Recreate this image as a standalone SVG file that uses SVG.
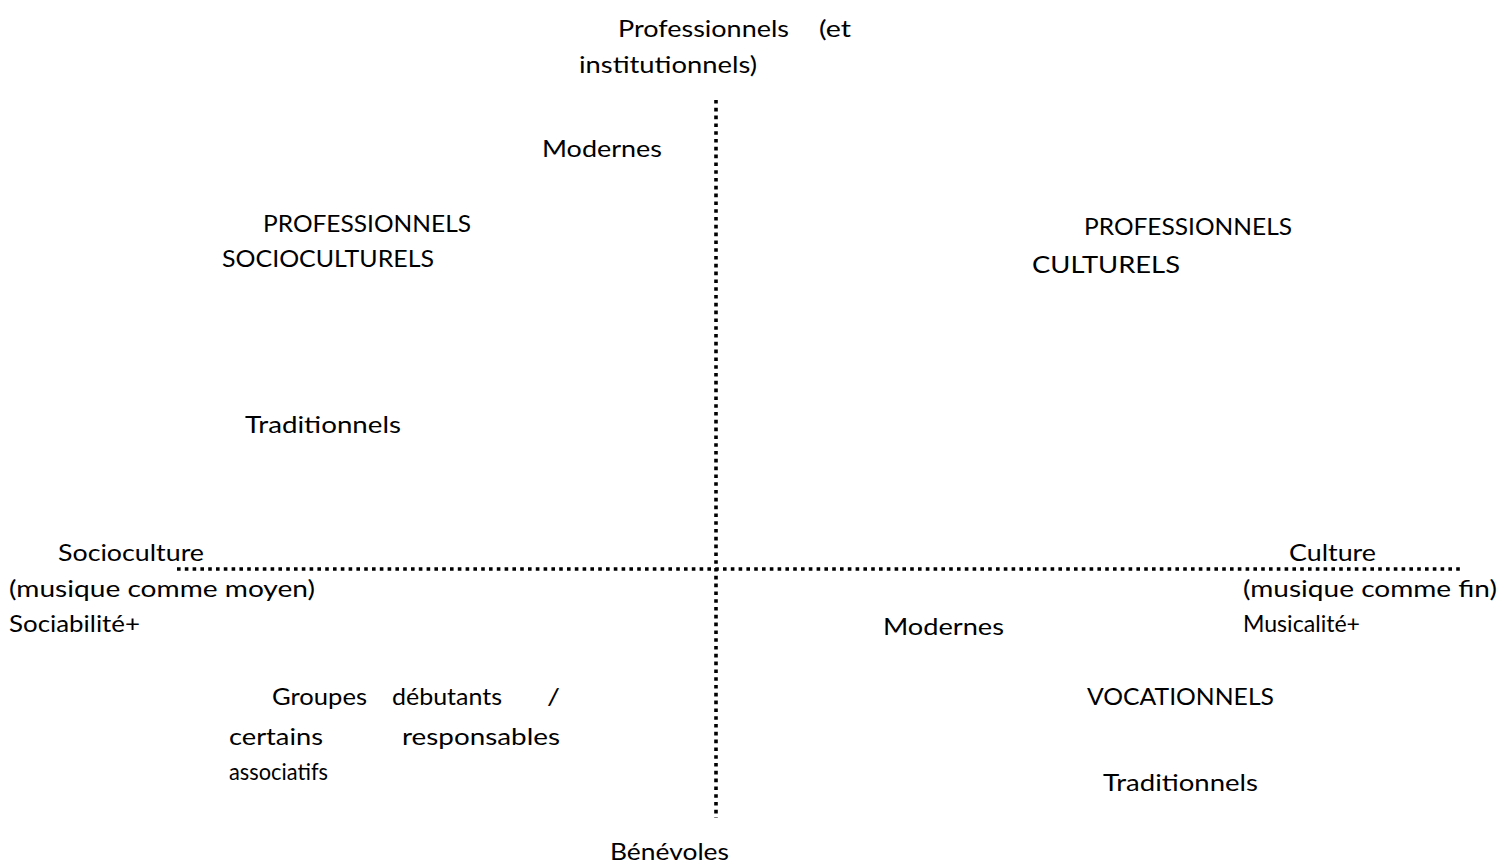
<svg xmlns="http://www.w3.org/2000/svg" width="1500" height="867" viewBox="0 0 1500 867">
<style>
text{font-family:Lato,"Open Sans","Liberation Sans",sans-serif;font-size:24px;fill:#000}
.axis{stroke:#000;stroke-width:3.6;stroke-dasharray:3.6 4.2;fill:none}
</style>
<rect width="1500" height="867" fill="#fff"/>
<g id="connectors">
<line class="axis" x1="716" y1="100" x2="716" y2="818"/>
<line class="axis" x1="177" y1="569" x2="1462" y2="569"/>
</g>
<g id="pole-top">
<text x="618" y="37" textLength="171" lengthAdjust="spacingAndGlyphs">Professionnels</text>
<text x="819" y="37" textLength="32" lengthAdjust="spacingAndGlyphs">(et</text>
<text x="579" y="73" textLength="178" lengthAdjust="spacingAndGlyphs">institutionnels)</text>
</g>
<g id="pole-bottom">
<text x="610" y="860" textLength="119" lengthAdjust="spacingAndGlyphs">Bénévoles</text>
</g>
<g id="pole-left">
<text x="58" y="561" textLength="146" lengthAdjust="spacingAndGlyphs">Socioculture</text>
<text x="9" y="597" textLength="306" lengthAdjust="spacingAndGlyphs">(musique comme moyen)</text>
<text x="9" y="632" textLength="131" lengthAdjust="spacingAndGlyphs">Sociabilité+</text>
</g>
<g id="pole-right">
<text x="1289" y="561" textLength="87" lengthAdjust="spacingAndGlyphs">Culture</text>
<text x="1243" y="597" textLength="254" lengthAdjust="spacingAndGlyphs">(musique comme fin)</text>
<text x="1243" y="632" textLength="117" lengthAdjust="spacingAndGlyphs">Musicalité+</text>
</g>
<g id="q1">
<text x="542" y="157" textLength="120" lengthAdjust="spacingAndGlyphs">Modernes</text>
<text x="263" y="232" textLength="208" lengthAdjust="spacingAndGlyphs">PROFESSIONNELS</text>
<text x="222" y="267" textLength="212" lengthAdjust="spacingAndGlyphs">SOCIOCULTURELS</text>
<text x="245" y="433" textLength="156" lengthAdjust="spacingAndGlyphs">Traditionnels</text>
</g>
<g id="q2">
<text x="1084" y="235" textLength="208" lengthAdjust="spacingAndGlyphs">PROFESSIONNELS</text>
<text x="1032" y="273" textLength="148" lengthAdjust="spacingAndGlyphs">CULTURELS</text>
</g>
<g id="q3">
<text x="272" y="705" textLength="95" lengthAdjust="spacingAndGlyphs">Groupes</text>
<text x="392" y="705" textLength="110" lengthAdjust="spacingAndGlyphs">débutants</text>
<text x="547" y="705" textLength="13" lengthAdjust="spacingAndGlyphs">/</text>
<text x="229" y="745" textLength="94" lengthAdjust="spacingAndGlyphs">certains</text>
<text x="402" y="745" textLength="158" lengthAdjust="spacingAndGlyphs">responsables</text>
<text x="229" y="780" textLength="99" lengthAdjust="spacingAndGlyphs">associatifs</text>
</g>
<g id="q4">
<text x="883" y="635" textLength="121" lengthAdjust="spacingAndGlyphs">Modernes</text>
<text x="1087" y="705" textLength="187" lengthAdjust="spacingAndGlyphs">VOCATIONNELS</text>
<text x="1103" y="791" textLength="155" lengthAdjust="spacingAndGlyphs">Traditionnels</text>
</g>
</svg>
